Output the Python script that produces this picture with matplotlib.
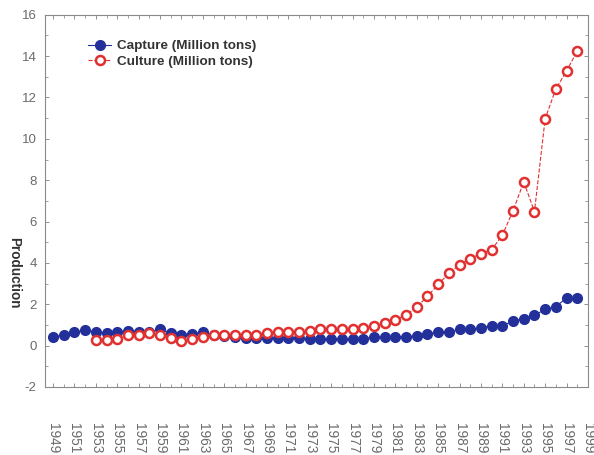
import matplotlib
matplotlib.use("Agg")
import matplotlib.pyplot as plt
from matplotlib.ticker import MultipleLocator

plt.rcParams['font.family'] = ['Liberation Sans', 'DejaVu Sans']
plt.rcParams['axes.unicode_minus'] = False

years = list(range(1949, 1999))

capture = [0.40, 0.53, 0.65, 0.74, 0.66, 0.60, 0.65, 0.73, 0.68, 0.66,
           0.78, 0.62, 0.53, 0.58, 0.64, 0.50, 0.45, 0.40, 0.35, 0.35,
           0.35, 0.35, 0.36, 0.36, 0.34, 0.33, 0.34, 0.34, 0.33, 0.34,
           0.40, 0.40, 0.40, 0.42, 0.48, 0.58, 0.65, 0.65, 0.78, 0.80,
           0.86, 0.97, 0.97, 1.18, 1.31, 1.47, 1.75, 1.88, 2.31, 2.30]

culture_years = list(range(1953, 1999))
culture = [0.29, 0.26, 0.32, 0.50, 0.53, 0.62, 0.49, 0.37, 0.21, 0.32,
           0.42, 0.53, 0.53, 0.49, 0.49, 0.53, 0.62, 0.65, 0.66, 0.66,
           0.73, 0.78, 0.78, 0.78, 0.78, 0.83, 0.97, 1.07, 1.23, 1.50,
           1.86, 2.39, 2.96, 3.50, 3.90, 4.21, 4.45, 4.64, 5.34, 6.52,
           7.92, 6.48, 10.97, 12.42, 13.27, 14.26]

xtick_years = list(range(1949, 2000, 2))

blue = '#23309a'
red = '#e03030'
grey = '#6a6a6a'

fig = plt.figure(figsize=(5.94, 4.55), dpi=100)
ax = fig.add_axes([0.0758, 0.1495, 0.914, 0.818])

ax.plot(years, capture, '-', color=blue, lw=0.8, marker='o', ms=7,
        mfc=blue, mec=blue, label='Capture (Million tons)', zorder=3)
ax.plot(culture_years, culture, '--', color=red, lw=0.8, marker='o', ms=6.5,
        mfc='white', mec=red, mew=1.8, label='Culture (Million tons)', zorder=4)

ax.set_xlim(1948.25, 1999)
ax.set_ylim(-2, 16)
ax.set_xticks(xtick_years)
ax.set_xticklabels([str(y) for y in xtick_years], rotation=-90,
                   color=grey, fontsize=9.8)
ax.xaxis.set_minor_locator(MultipleLocator(1))
ax.yaxis.set_major_locator(MultipleLocator(2))
ax.yaxis.set_minor_locator(MultipleLocator(1))
ax.tick_params(axis='both', which='both', direction='in', top=True,
               right=True, colors='#909090', labelcolor=grey)
ax.tick_params(axis='both', which='major', length=3, width=0.7)
ax.tick_params(axis='both', which='minor', length=2, width=0.6)
ax.tick_params(axis='x', which='major', pad=26)
ax.tick_params(axis='y', labelsize=9.5, pad=6)
for s in ax.spines.values():
    s.set_color('#8a8a8a')
    s.set_linewidth(0.8)

fig.text(0.024, 0.40, 'Production', rotation=-90, fontsize=9.8,
         fontweight='bold', color='#333333', ha='center', va='center')

leg = ax.legend(loc='upper left', bbox_to_anchor=(0.062, 0.958), frameon=False,
                prop={'weight': 'bold', 'size': 9.7}, handlelength=1.7,
                handletextpad=0.45, labelspacing=0.22, borderaxespad=0.3)
for t in leg.get_texts():
    t.set_color('#333333')

fig.savefig('out.png', dpi=100, facecolor='white')
